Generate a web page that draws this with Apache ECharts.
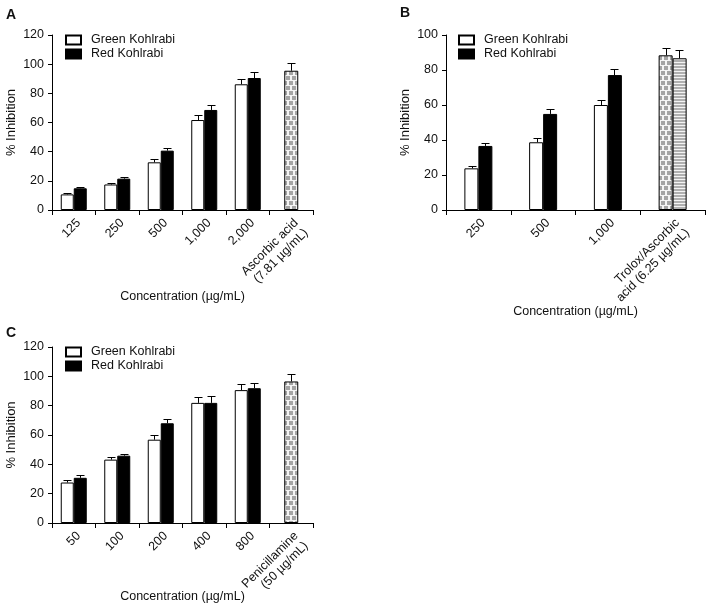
<!DOCTYPE html>
<html>
<head>
<meta charset="utf-8">
<script src="https://cdn.jsdelivr.net/npm/echarts@6/dist/echarts.min.js"></script>
<style>html,body{margin:0;padding:0;background:#fff}#c{width:713px;height:613px}</style>
</head>
<body>
<div id="c"></div>
<script>
// ---------- DATA ----------
const catsA = ['125', '250', '500', '1,000', '2,000', 'Ascorbic acid\n(7.81 µg/mL)'];
const greenA = [10.7, 17.5, 32.7, 61.7, 86.2];
const greenErrA = [0.8, 0.7, 2.0, 3.7, 3.8];
const redA = [14.9, 21.5, 40.7, 68.6, 90.5];
const redErrA = [0.6, 1.4, 1.6, 3.2, 3.9];
const stdA = 95.5, stdErrA = 5.1;

const catsB = ['250', '500', '1,000', 'Trolox/Ascorbic\nacid (6.25 µg/mL)'];
const greenB = [23.8, 38.7, 60.0];
const greenErrB = [1.3, 2.3, 2.9];
const redB = [36.6, 54.9, 77.1];
const redErrB = [1.5, 2.6, 3.7];
const troloxB = 88.4, troloxErrB = 4.0;
const ascorbicB = 86.7, ascorbicErrB = 4.7;

const catsC = ['50', '100', '200', '400', '800', 'Penicillamine\n(50 µg/mL)'];
const greenC = [27.6, 43.2, 56.8, 81.9, 90.6];
const greenErrC = [1.4, 2.0, 2.9, 3.9, 4.3];
const redC = [30.8, 45.9, 68.0, 81.9, 91.9];
const redErrC = [1.6, 1.4, 2.7, 4.6, 3.5];
const stdC = 96.5, stdErrC = 4.8;

const yTicksAC = {min: 0, max: 120, interval: 20};
const yTicksB = {min: 0, max: 100, interval: 20};

// ---------- STYLE ----------
const FONT = 'Liberation Sans, Arial, sans-serif';
const TXT = '#111';
const BW = 13;

function brickPattern() {
  const c = document.createElement('canvas');
  c.width = 6; c.height = 10;
  const g = c.getContext('2d');
  g.fillStyle = '#f4f4f4'; g.fillRect(0, 0, 6, 10);
  g.fillStyle = '#a4a4a4';
  g.fillRect(1, 1, 4, 4);
  g.fillRect(4, 6, 2, 4); g.fillRect(0, 6, 2, 4);
  return {image: c, repeat: 'repeat'};
}
function stripePattern() {
  const c = document.createElement('canvas');
  c.width = 4; c.height = 3;
  const g = c.getContext('2d');
  g.fillStyle = '#f4f4f4'; g.fillRect(0, 0, 4, 3);
  g.fillStyle = '#b0b0b0'; g.fillRect(0, 0, 4, 2);
  return {image: c, repeat: 'repeat'};
}
const brick = brickPattern();
const stripes = stripePattern();

const grids = [
  {left: 52, top: 35, width: 261, height: 175, outerBoundsMode: 'none', containLabel: false},
  {left: 446, top: 35, width: 259, height: 175, outerBoundsMode: 'none', containLabel: false},
  {left: 52, top: 347, width: 261, height: 176, outerBoundsMode: 'none', containLabel: false}
];

function xAxisFor(gi, cats, nameGap) {
  return {
    type: 'category', gridIndex: gi, data: cats,
    axisLine: {lineStyle: {color: '#000', width: 1}},
    axisTick: {show: true, length: 5, lineStyle: {color: '#000'}},
    axisLabel: {interval: 0, rotate: 45, color: TXT, fontSize: 12.5, fontFamily: FONT, margin: 6,
      verticalAlign: 'top', lineHeight: 14},
    name: 'Concentration (µg/mL)', nameLocation: 'middle', nameGap: nameGap, nameMoveOverlap: false,
    nameTextStyle: {color: TXT, fontSize: 12.5, fontFamily: FONT}
  };
}
function yAxisFor(gi, t) {
  return {
    type: 'value', gridIndex: gi, min: t.min, max: t.max, interval: t.interval,
    splitLine: {show: false},
    axisLine: {show: true, lineStyle: {color: '#000', width: 1}},
    axisTick: {show: true, length: 4, lineStyle: {color: '#000'}},
    axisLabel: {color: TXT, fontSize: 12.5, fontFamily: FONT, margin: 8},
    name: '% Inhibition', nameLocation: 'middle', nameGap: 34, nameMoveOverlap: false,
    nameTextStyle: {color: TXT, fontSize: 13, fontFamily: FONT}
  };
}

const greenStyle = {color: '#fff', borderColor: '#000', borderWidth: 1};
const redStyle = {color: '#000', borderColor: '#000', borderWidth: 1};

function pad(arr, n) { const a = arr.slice(); while (a.length < n) a.push('-'); return a; }
function only(v, idx, n) { const a = []; for (let i = 0; i < n; i++) a.push(i === idx ? v : '-'); return a; }

function errSeries(xi, yi, items) {
  return {
    type: 'custom', xAxisIndex: xi, yAxisIndex: yi, silent: true, z: 5,
    data: items,
    renderItem: function (params, api) {
      const cat = api.value(0), mean = api.value(1), err = api.value(2), slot = api.value(3);
      const b = api.coord([cat, mean]);
      const t = api.coord([cat, mean + err]);
      const x = Math.round(b[0] + slot * BW / 2) + 0.5;
      const ty = Math.round(t[1]) + 0.5;
      return {
        type: 'group',
        children: [
          {type: 'line', shape: {x1: x, y1: b[1], x2: x, y2: ty}, style: {stroke: '#000', lineWidth: 1}},
          {type: 'line', shape: {x1: x - 4, y1: ty, x2: x + 4, y2: ty}, style: {stroke: '#000', lineWidth: 1}}
        ]
      };
    }
  };
}
function errItems(vals, errs, slot) { return vals.map((v, i) => [i, v, errs[i], slot]); }

const series = [];
// Panel A
series.push({name: 'Green Kohlrabi', type: 'bar', xAxisIndex: 0, yAxisIndex: 0, barWidth: BW, barGap: '0%',
  itemStyle: greenStyle, data: pad(greenA, catsA.length)});
series.push({name: 'Red Kohlrabi', type: 'bar', xAxisIndex: 0, yAxisIndex: 0, barWidth: BW, barGap: '0%',
  itemStyle: redStyle, data: pad(redA, catsA.length)});
series.push({name: 'Ascorbic acid', type: 'bar', xAxisIndex: 1, yAxisIndex: 0, barWidth: BW + 1,
  itemStyle: {color: brick, borderColor: '#000', borderWidth: 1}, data: only(stdA, catsA.length - 1, catsA.length)});
series.push(errSeries(0, 0, errItems(greenA, greenErrA, -1).concat(errItems(redA, redErrA, 1), [[catsA.length - 1, stdA, stdErrA, 0]])));
// Panel B
const greenBData = greenB.map(v => v).concat([{value: troloxB, itemStyle: {color: brick, borderColor: '#000', borderWidth: 1}}]);
const redBData = redB.map(v => v).concat([{value: ascorbicB, itemStyle: {color: stripes, borderColor: '#000', borderWidth: 1}}]);
series.push({name: 'Green Kohlrabi', type: 'bar', xAxisIndex: 2, yAxisIndex: 1, barWidth: BW + 1, barGap: '0%',
  itemStyle: greenStyle, data: greenBData});
series.push({name: 'Red Kohlrabi', type: 'bar', xAxisIndex: 2, yAxisIndex: 1, barWidth: BW + 1, barGap: '0%',
  itemStyle: redStyle, data: redBData});
series.push(errSeries(2, 1, errItems(greenB, greenErrB, -1).concat(errItems(redB, redErrB, 1),
  [[3, troloxB, troloxErrB, -1], [3, ascorbicB, ascorbicErrB, 1]])));
// Panel C
series.push({name: 'Green Kohlrabi', type: 'bar', xAxisIndex: 3, yAxisIndex: 2, barWidth: BW, barGap: '0%',
  itemStyle: greenStyle, data: pad(greenC, catsC.length)});
series.push({name: 'Red Kohlrabi', type: 'bar', xAxisIndex: 3, yAxisIndex: 2, barWidth: BW, barGap: '0%',
  itemStyle: redStyle, data: pad(redC, catsC.length)});
series.push({name: 'Penicillamine', type: 'bar', xAxisIndex: 4, yAxisIndex: 2, barWidth: BW + 1,
  itemStyle: {color: brick, borderColor: '#000', borderWidth: 1}, data: only(stdC, catsC.length - 1, catsC.length)});
series.push(errSeries(3, 2, errItems(greenC, greenErrC, -1).concat(errItems(redC, redErrC, 1), [[catsC.length - 1, stdC, stdErrC, 0]])));

function legendAt(left, top) {
  return {
    left: left, top: top, orient: 'vertical', itemWidth: 15, itemHeight: 9, itemGap: 0, padding: 0,
    icon: 'rect', selectedMode: false,
    data: ['Green Kohlrabi', 'Red Kohlrabi'],
    textStyle: {color: TXT, fontSize: 12.5, fontFamily: FONT, padding: [0, 0, 0, 5], lineHeight: 14}
  };
}

const option = {
  animation: false,
  backgroundColor: '#fff',
  grid: grids,
  xAxis: [
    xAxisFor(0, catsA, 80),
    Object.assign(xAxisFor(0, catsA, 0), {show: false}),
    xAxisFor(1, catsB, 95),
    xAxisFor(2, catsC, 67),
    Object.assign(xAxisFor(2, catsC, 0), {show: false})
  ],
  yAxis: [yAxisFor(0, yTicksAC), yAxisFor(1, yTicksB), yAxisFor(2, yTicksAC)],
  legend: [legendAt(65, 33), legendAt(458, 33), legendAt(65, 345)],
  series: series,
  graphic: [
    {type: 'text', left: 6, top: 8, style: {text: 'A', font: 'bold 14px ' + FONT, fill: '#111'}},
    {type: 'text', left: 400, top: 6, style: {text: 'B', font: 'bold 14px ' + FONT, fill: '#111'}},
    {type: 'text', left: 6, top: 326, style: {text: 'C', font: 'bold 14px ' + FONT, fill: '#111'}}
  ]
};

const chart = echarts.init(document.getElementById('c'), null, {renderer: 'canvas'});
chart.setOption(option);
</script>
</body>
</html>
